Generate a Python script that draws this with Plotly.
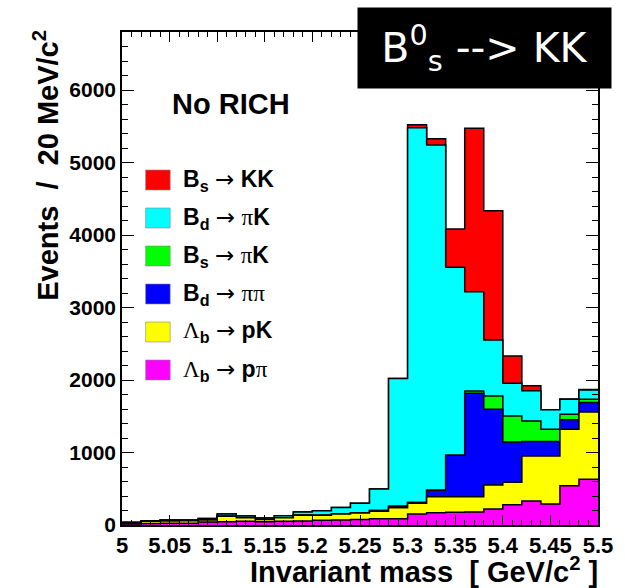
import plotly.graph_objects as go
import numpy as np

# ---- data (events per 20 MeV/c^2 bin, 5.00 - 5.50 GeV/c^2) ----
bin_width = 0.02
n_bins = 25
mass_lo = 5.0

lb_ppi = [15, 20, 25, 25, 40, 46, 50, 45, 50, 55, 65, 70, 75, 87, 87, 150, 170, 175, 180, 220, 280, 330, 290, 540, 630]
lb_pk = [10, 30, 30, 35, 30, 75, 50, 30, 50, 80, 70, 80, 90, 103, 152, 150, 221, 216, 211, 330, 310, 620, 660, 780, 930]
bd_pipi = [0, 0, 0, 0, 0, 0, 0, 0, 0, 0, 0, 0, 0, 10, 21, 10, 87, 570, 1425, 1045, 555, 200, 200, 130, 130]
bs_pik = [0, 0, 0, 0, 0, 0, 0, 0, 0, 0, 0, 0, 0, 0, 0, 0, 0, 0, 32, 184, 358, 284, 170, 76, 43]
bd_pik = [12, 10, 14, 9, 20, 31, 24, 20, 29, 45, 63, 90, 134, 295, 1760, 5170, 4762, 2593, 1370, 773, 451, 419, 270, 207, 129]
bs_kk = [0, 0, 0, 0, 0, 0, 0, 0, 0, 0, 0, 0, 0, 0, 0, 40, 88, 529, 2253, 1784, 376, 67, 0, 5, 8]

# stacking order bottom -> top
components = [
    ("Λ<sub>b</sub>", "p", "π", lb_ppi, "#ff00ff"),
    ("Λ<sub>b</sub>", "p", "K", lb_pk, "#ffff00"),
    ("B<sub>d</sub>", "", "ππ", bd_pipi, "#0000ff"),
    ("B<sub>s</sub>", "", "πK", bs_pik, "#00ff00"),
    ("B<sub>d</sub>", "", "πK", bd_pik, "#00ffff"),
    ("B<sub>s</sub>", "", "KK", bs_kk, "#ff0000"),
]

x_ticks = [5, 5.05, 5.1, 5.15, 5.2, 5.25, 5.3, 5.35, 5.4, 5.45, 5.5]
x_tick_text = ["5", "5.05", "5.1", "5.15", "5.2", "5.25", "5.3", "5.35", "5.4", "5.45", "5.5"]
y_ticks = [0, 1000, 2000, 3000, 4000, 5000, 6000]

edges = mass_lo + bin_width * np.arange(n_bins + 1)
cum = np.cumsum(np.array([c[3] for c in components], dtype=float), axis=0)

fig = go.Figure()
# draw from the top of the stack downwards so lower fills cover higher ones
for i in range(len(components) - 1, -1, -1):
    y = list(cum[i]) + [cum[i][-1]]
    fig.add_trace(go.Scatter(
        x=edges, y=y, mode="lines", line_shape="hv",
        line=dict(color="black", width=1.5),
        fill="tozeroy", fillcolor=components[i][4],
        showlegend=False, hoverinfo="skip"))

# plot area in pixels: x 122..606, y 32..525
L, R, T, B = 122, 606, 32, 525
W, H = R - L, B - T

def px(x):
    return (x - L) / W

def py(y):
    return (B - y) / H

shapes = []
annotations = []
# legend (top item = B_s -> KK)
leg_centers = [180, 218, 256, 294, 332, 370]
arrow = "<span style='font-family:DejaVu Sans;font-weight:normal'>→</span>"
for k, idx in enumerate(range(len(components) - 1, -1, -1)):
    name, pre, post, _, col = components[idx]
    yc = leg_centers[k]
    shapes.append(dict(type="rect", xref="paper", yref="paper",
                       x0=px(146), x1=px(171), y0=py(yc + 10), y1=py(yc - 10),
                       fillcolor=col, line=dict(color="#888888", width=0.6)))
    post_html = post.replace("π", "<span style='font-family:Liberation Serif;font-weight:normal'>π</span>")
    name_html = name.replace("Λ", "<span style='font-family:Liberation Serif;font-weight:normal'>Λ</span>")
    label = f"<b>{name_html} {arrow} {pre}{post_html}</b>"
    annotations.append(dict(text=label, xref="paper", yref="paper",
                            x=px(182), y=py(yc), xanchor="left", yanchor="middle",
                            showarrow=False,
                            font=dict(family="Liberation Sans", size=23, color="black")))

annotations.append(dict(text="<b>No RICH</b>", xref="paper", yref="paper",
                        x=px(171), y=py(104), xanchor="left", yanchor="middle",
                        showarrow=False,
                        font=dict(family="Liberation Sans", size=29, color="black")))

# axis titles
annotations.append(dict(text="<b>Events  /  20 MeV/c<sup>2</sup></b>", xref="paper", yref="paper",
                        x=px(45), y=py(28), xanchor="center", yanchor="top", textangle=-90,
                        showarrow=False,
                        font=dict(family="Liberation Sans", size=29, color="black")))
annotations.append(dict(text="<b>Invariant mass  [ GeV/c<sup>2</sup> ]</b>", xref="paper", yref="paper",
                        x=px(608), y=py(570), xanchor="right", yanchor="middle",
                        showarrow=False,
                        font=dict(family="Liberation Sans", size=29, color="black")))

# black title box
annotations.append(dict(text="B<sup>0</sup><sub>s</sub> --> KK", xref="paper", yref="paper",
                        x=px(620), y=py(48), xanchor="right", yanchor="middle",
                        showarrow=False, bgcolor="black", borderpad=8,
                        width=237, height=64,
                        font=dict(family="DejaVu Sans", size=41, color="white")))

fig.update_layout(
    width=625, height=588,
    margin=dict(l=L, r=625 - R, t=T, b=588 - B),
    paper_bgcolor="white", plot_bgcolor="white",
    shapes=shapes, annotations=annotations,
    showlegend=False,
    xaxis=dict(range=[5.0, 5.5], tickvals=x_ticks, ticktext=x_tick_text,
               ticks="inside", ticklen=10, tickcolor="black", tickwidth=1,
               showline=True, linecolor="black", linewidth=1.5, mirror="allticks",
               showgrid=False, zeroline=False,
               tickfont=dict(family="Liberation Sans", size=22, color="black", weight="bold"),
               minor=dict(ticks="inside", dtick=0.01, ticklen=5, tickcolor="black", showgrid=False)),
    yaxis=dict(range=[0, 6800], tickvals=y_ticks,
               ticks="inside", ticklen=12, tickcolor="black", tickwidth=1,
               showline=True, linecolor="black", linewidth=1.5, mirror="allticks",
               showgrid=False, zeroline=False,
               tickfont=dict(family="Liberation Sans", size=21, color="black", weight="bold"),
               minor=dict(ticks="inside", dtick=200, ticklen=6, tickcolor="black", showgrid=False)),
)

fig.write_html("out.html")
